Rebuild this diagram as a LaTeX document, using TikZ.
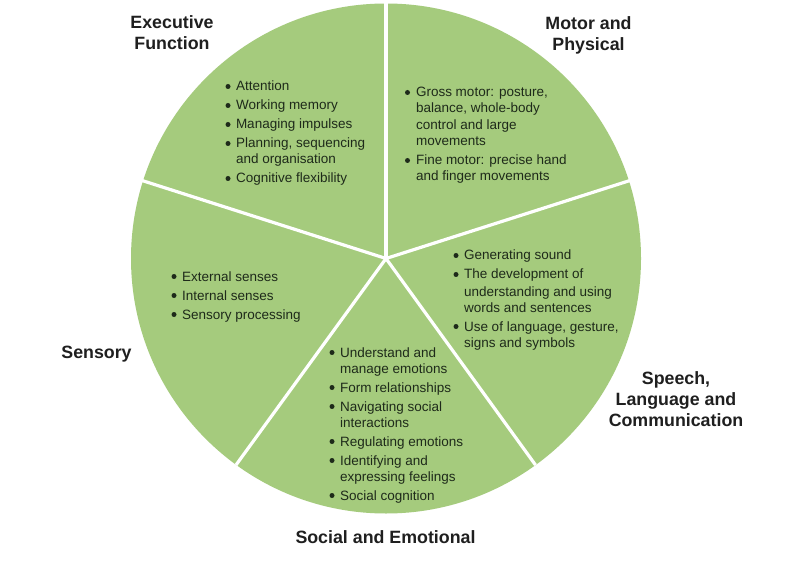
\documentclass[tikz,border=0pt]{standalone}
\usepackage{fontspec}
\setmainfont{Liberation Sans}
\definecolor{sector}{HTML}{A5CB7D}
\definecolor{ink}{HTML}{1E2A1A}
\definecolor{head}{HTML}{1F1F1F}
\tikzset{
  body/.style={anchor=base west,inner sep=0pt,outer sep=0pt,text=ink,font=\fontsize{13.5}{15}\selectfont},
  bul/.style={circle,fill=ink,inner sep=0pt,minimum size=5pt},
  title/.style={align=center,inner sep=0pt,text=head,font=\fontsize{17.8}{21}\selectfont\bfseries},
  spoke/.style={draw=white,line width=3.2pt}
}
\begin{document}
\begin{tikzpicture}[x=1pt,y=-1pt]
\useasboundingbox (0,0) rectangle (800,561);
\fill[white] (0,0) rectangle (800,561);
\coordinate (c) at (386,258.5);
\fill[sector] (c) circle[radius=255];
\foreach \n/\x/\y in {a/386/0,b/630/180.5,d/535.5/465,e/236/465,f/142/180.5}{
  \coordinate (\n) at (\x,\y);
  \draw[spoke] (c) -- (\n);
}
% titles
\node[title] (exec) at (172,33) {Executive\\Function};
\node[title] (motor) at (588.5,35) {Motor and\\Physical};
\node[title] (speech) at (676,399) {Speech,\\Language and\\Communication};
\node[title] (sens) at (96.5,354.5) {Sensory};
\node[title] (soc) at (385.5,537.5) {Social and Emotional};
% Executive
\foreach \i/\yy/\s in {1/91/Attention,2/110/Working memory,3/129/Managing impulses,4/148/{Planning, sequencing},6/183/Cognitive flexibility}{
  \node[body] (ex\i) at (236,\yy) {\s};
  \node[bul] at (228,\yy-4.5) {};
}
\node[body] (ex5) at (236,164) {and organisation};
% Motor
\foreach \i/\yy/\s in {1/97/{Gross motor: posture,},5/165/Fine motor: precise hand}{
  \node[body] (mo\i) at (416,\yy) {\s};
  \node[bul] at (407.5,\yy-4.5) {};
}
\foreach \i/\yy/\s in {2/113/{balance, whole-body},3/130/control and large,4/146/movements,6/181/and finger movements}{
  \node[body] (mo\i) at (416,\yy) {\s};
}
% Speech
\foreach \i/\yy/\s in {1/260/Generating sound,2/279/The development of,5/331/{Use of language, gesture,}}{
  \node[body] (sp\i) at (464,\yy) {\s};
  \node[bul] at (456,\yy-4.5) {};
}
\foreach \i/\yy/\s in {3/296/understanding and using,4/312/words and sentences,6/347/signs and symbols}{
  \node[body] (sp\i) at (464,\yy) {\s};
}
% Sensory
\foreach \i/\yy/\s in {1/281/External senses,2/300/Internal senses,3/319/Sensory processing}{
  \node[body] (se\i) at (182,\yy) {\s};
  \node[bul] at (174,\yy-4.5) {};
}
% Social
\foreach \i/\yy/\s in {1/357/Understand and,3/392/Form relationships,4/411/Navigating social,6/446/Regulating emotions,7/465/Identifying and,9/500/Social cognition}{
  \node[body] (so\i) at (340,\yy) {\s};
  \node[bul] at (332,\yy-4.5) {};
}
\foreach \i/\yy/\s in {2/373/manage emotions,5/427/interactions,8/481/expressing feelings}{
  \node[body] (so\i) at (340,\yy) {\s};
}
\end{tikzpicture}
\end{document}
